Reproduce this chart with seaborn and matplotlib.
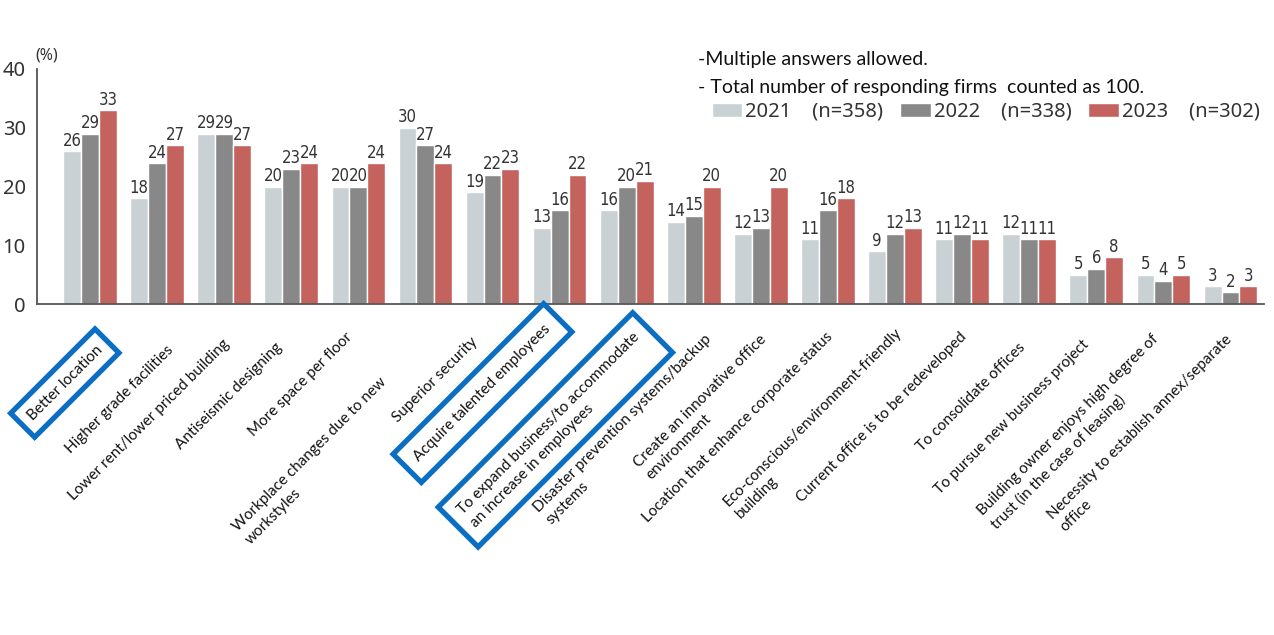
import matplotlib
matplotlib.use('Agg')
import matplotlib.pyplot as plt
import matplotlib.transforms as mtransforms
import seaborn as sns
import pandas as pd

# ---------------- data ----------------
categories = [
    "Better location",
    "Higher grade facilities",
    "Lower rent/lower priced building",
    "Antiseismic designing",
    "More space per floor",
    "Workplace changes due to new\nworkstyles",
    "Superior security",
    "Acquire talented employees",
    "To expand business/to accommodate\nan increase in employees",
    "Disaster prevention systems/backup\nsystems",
    "Create an innovative office\nenvironment",
    "Location that enhance corporate status",
    "Eco-conscious/environment-friendly\nbuilding",
    "Current office is to be redeveloped",
    "To consolidate offices",
    "To pursue new business project",
    "Building owner enjoys high degree of\ntrust (in the case of leasing)",
    "Necessity to establish annex/separate\noffice",
]
years = ["2021", "2022", "2023"]
n_labels = ["(n=358)", "(n=338)", "(n=302)"]
vals_2021 = [26, 18, 29, 20, 20, 30, 19, 13, 16, 14, 12, 11, 9, 11, 12, 5, 5, 3]
vals_2022 = [29, 24, 29, 23, 20, 27, 22, 16, 20, 15, 13, 16, 12, 12, 11, 6, 4, 2]
vals_2023 = [33, 27, 27, 24, 24, 24, 23, 22, 21, 20, 20, 18, 13, 11, 11, 8, 5, 3]
highlighted = [0, 7, 8]
notes = ["-Multiple answers allowed.",
         "- Total number of responding firms  counted as 100."]

# ---------------- layout / style ----------------
colors = ["#C9D1D4", "#888888", "#C4635E"]
label_offsets = [(5, 39), (9, 39), (-2, 33), (-16, 36), (-13, 26), (-46, 71),
                 (-22, 31), (-16, 18), (6, 26), (10, 28), (-2, 28), (-2, 26),
                 (-1, 21), (-3, 26), (-11, 36), (-15, 33), (-12, 28), (-6, 28)]
box_pads = {0: 0.65, 7: 0.85, 8: 0.8}
TEXT = "#333333"
AXC = "#555555"

sns.set_theme(style="white")
plt.rcParams['font.family'] = ['Lato', 'DejaVu Sans']

W, H = 1274, 635
fig = plt.figure(figsize=(W / 100, H / 100), dpi=100)
ax = fig.add_axes([37 / W, 1 - 304 / H, (1264 - 37) / W, (304 - 69) / H])

df = pd.DataFrame({
    "category": categories * 3,
    "value": vals_2021 + vals_2022 + vals_2023,
    "year": [y for y in years for _ in categories],
})

sns.barplot(data=df, x="category", y="value", hue="year", order=categories,
            hue_order=years, palette=colors, saturation=1, width=0.8,
            edgecolor="white", linewidth=1.0, ax=ax, errorbar=None)

for cont in ax.containers:
    ax.bar_label(cont, fmt="%d", padding=1, fontsize=12, color=TEXT,
                 family="DejaVu Sans", fontstretch="condensed")

ax.set_ylim(0, 40)
ax.set_xlim(-0.79, 17.5)
ax.set_yticks([0, 10, 20, 30, 40])
ax.set_xticks([i + 0.5 for i in range(len(categories))])
ax.set_xticklabels([])
ax.set_xlabel("")
ax.set_ylabel("")
for s in ["top", "right"]:
    ax.spines[s].set_visible(False)
for s in ["left", "bottom"]:
    ax.spines[s].set_color(AXC)
    ax.spines[s].set_linewidth(1.3)
ax.tick_params(axis="y", direction="in", length=8, width=1.2, color=AXC,
               pad=8, labelsize=14.5, labelcolor=TEXT)
ax.tick_params(axis="x", direction="in", length=4, width=1.2, color=AXC)
for t in ax.get_yticklabels():
    t.set_family("Noto Sans")

# category labels
for i, cat in enumerate(categories):
    dx, dy = label_offsets[i]
    tr = mtransforms.offset_copy(ax.get_xaxis_transform(), fig=fig,
                                 x=dx, y=-dy, units="dots")
    kw = {}
    if i in highlighted:
        kw["bbox"] = dict(boxstyle=f"square,pad={box_pads[i]}", fc="none",
                          ec="#0A6EC2", lw=3.8)
    ax.text(i, 0, cat, transform=tr, rotation=45, rotation_mode="anchor",
            ha="right", va="top", multialignment="left", fontsize=11,
            linespacing=1.35, color="#111111", **kw)

# legend
handles, _ = ax.get_legend_handles_labels()
ax.legend(handles, [f"{y}    {n}" for y, n in zip(years, n_labels)], ncol=3,
          loc="center left", bbox_to_anchor=(712 / W, 1 - 112 / H),
          bbox_transform=fig.transFigure, frameon=False, borderpad=0,
          borderaxespad=0, handlelength=1.5, handleheight=0.7,
          handletextpad=0.15, columnspacing=0.85,
          prop={"family": "Noto Sans", "size": 14.5}, labelcolor=TEXT)

fig.text(698 / W, 1 - 60 / H, notes[0], fontsize=14, color="#111111",
         va="center", ha="left")
fig.text(698 / W, 1 - 87 / H, notes[1], fontsize=14, color="#111111",
         va="center", ha="left")
fig.text(47 / W, 1 - 55 / H, "(%)", fontsize=11.5, color=TEXT, ha="center",
         va="center", family="Noto Sans")

fig.savefig("out.png", dpi=100, facecolor="white")
